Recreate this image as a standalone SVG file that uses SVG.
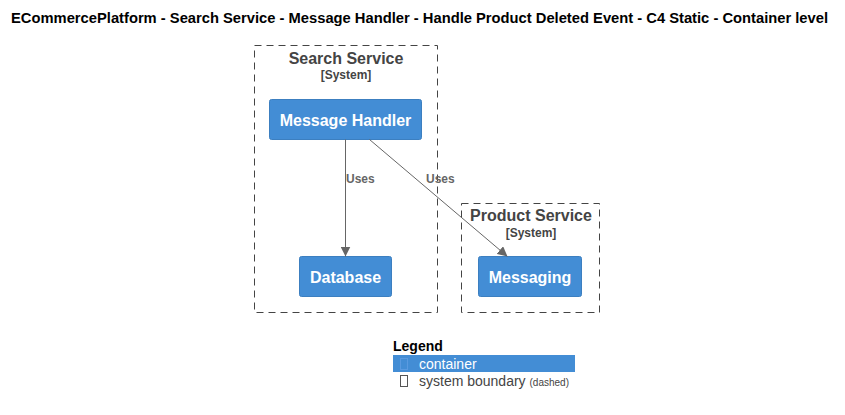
<svg xmlns="http://www.w3.org/2000/svg" width="845" height="415" viewBox="0 0 845 415">
<defs>
<style>
text{font-family:"Liberation Sans",Arial,sans-serif}
.title{font-size:14px;font-weight:bold;fill:#000}
.bnd{fill:none;stroke:#444;stroke-width:1;stroke-dasharray:7,5}
.bname{font-size:16px;font-weight:bold;fill:#444;text-anchor:middle}
.btype{font-size:12px;font-weight:bold;fill:#444;text-anchor:middle}
.node{fill:#438dd5;stroke:#3c7fc0;stroke-width:1}
.nlabel{font-size:16px;font-weight:bold;fill:#fff;text-anchor:middle}
.edge{stroke:#666;stroke-width:1;fill:none;marker-end:url(#arr)}
.elabel{font-size:12px;font-weight:bold;fill:#666}
</style>
<marker id="arr" viewBox="0 0 10 10" refX="10" refY="5" markerWidth="10" markerHeight="10" markerUnits="userSpaceOnUse" orient="auto">
<path d="M0,0 L10,5 L0,10 z" fill="#666"/>
</marker>
</defs>
<rect width="845" height="415" fill="#fff"/>
<text class="title" x="11" y="23" textLength="817" lengthAdjust="spacingAndGlyphs">ECommercePlatform - Search Service - Message Handler - Handle Product Deleted Event - C4 Static - Container level</text>
<g id="search-service">
<rect class="bnd" x="254.5" y="45.5" width="183" height="267"/>
<text class="bname" x="346" y="64">Search Service</text>
<text class="btype" x="346" y="79">[System]</text>
</g>
<g id="product-service">
<rect class="bnd" x="461.5" y="203.5" width="138" height="109"/>
<text class="bname" x="531" y="221">Product Service</text>
<text class="btype" x="531" y="237">[System]</text>
</g>
<g id="message-handler">
<rect class="node" x="269.5" y="99.5" width="152" height="40" rx="2"/>
<text class="nlabel" x="345.5" y="125.5">Message Handler</text>
</g>
<g id="database">
<rect class="node" x="299.5" y="256.5" width="92" height="40" rx="2"/>
<text class="nlabel" x="345.5" y="282.5">Database</text>
</g>
<g id="messaging">
<rect class="node" x="478.5" y="256.5" width="103" height="40" rx="2"/>
<text class="nlabel" x="530" y="282.5">Messaging</text>
</g>
<g id="connectors">
<line class="edge" x1="345.5" y1="139.5" x2="345.5" y2="256.5"/>
<text class="elabel" x="346" y="183">Uses</text>
<line class="edge" x1="369.5" y1="139.5" x2="507.5" y2="256.5"/>
<text class="elabel" x="426" y="183">Uses</text>
</g>
<g id="legend">
<text x="393" y="351" style="font-size:14px;font-weight:bold;fill:#000">Legend</text>
<rect x="393" y="355" width="182" height="17" fill="#438dd5"/>
<rect x="400.5" y="358.5" width="7" height="11" fill="none" stroke="#5a9ae0" stroke-width="1"/>
<text x="419" y="369" style="font-size:14px;fill:#fff">container</text>
<rect x="400.5" y="375.5" width="7" height="11" fill="none" stroke="#555" stroke-width="1"/>
<text x="419" y="386" style="font-size:14px;fill:#444">system boundary <tspan style="font-size:10px">(dashed)</tspan></text>
</g>
</svg>
